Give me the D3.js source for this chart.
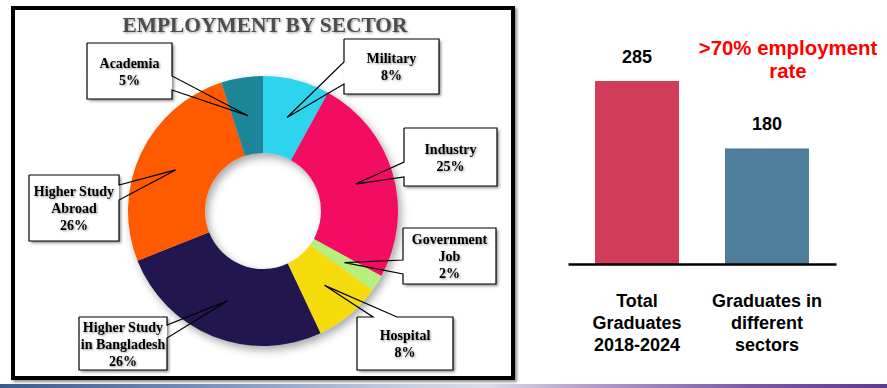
<!DOCTYPE html>
<html>
<head>
<meta charset="utf-8">
<script src="https://cdn.jsdelivr.net/npm/d3@7"></script>
<style>
  html, body { margin: 0; padding: 0; background: #fff; }
  svg { display: block; }
</style>
</head>
<body>
<div id="chart"></div>
<script>
// Donut data (clockwise from 12 o'clock)
const sectors = ["Military", "Industry", "Government Job", "Hospital",
                 "Higher Study in Bangladesh", "Higher Study Abroad", "Academia"];
const sectorShares = [8, 25, 2, 8, 26, 26, 5];
const sectorLines = [["Military"], ["Industry"], ["Government", "Job"], ["Hospital"],
                     ["Higher Study", "in Bangladesh"], ["Higher Study", "Abroad"], ["Academia"]];
const sectorColors = ["#2fd3ee", "#f20c63", "#b7ef7b", "#f7dc0b", "#21164f", "#ff5a05", "#1b8597"];

// Bar data
const barCategories = ["Total Graduates 2018-2024", "Graduates in different sectors"];
const barLines = [["Total", "Graduates", "2018-2024"], ["Graduates in", "different", "sectors"]];
const barValues = [285, 180];
const barColors = ["#d13c58", "#4f7e9b"];

// Callout box layout: box rect + side where the pointer leaves and its two base offsets
const calloutLayout = [
    { x: 344, y: 39, w: 95, h: 55, side: "left", a: 62, b: 84 },
    { x: 404, y: 128, w: 93, h: 58, side: "left", a: 162, b: 177 },
    { x: 403, y: 228, w: 93, h: 56, side: "left", a: 260, b: 274 },
    { x: 357, y: 317, w: 96, h: 53, side: "top", a: 373, b: 397 },
    { x: 79, y: 317, w: 88, h: 53, side: "right", a: 325, b: 338 },
    { x: 29, y: 175, w: 90, h: 66, side: "right", a: 185, b: 200 },
    { x: 87, y: 43, w: 85, h: 56, side: "right", a: 76, b: 90 }
];

const width = 887, height = 388;
const svg = d3.select("#chart").append("svg")
    .attr("width", width)
    .attr("height", height);

const defs = svg.append("defs");
const shadow = defs.append("filter").attr("id", "shadow")
    .attr("x", "-20%").attr("y", "-20%").attr("width", "140%").attr("height", "140%");
shadow.append("feDropShadow").attr("dx", 3).attr("dy", 4).attr("stdDeviation", 4)
    .attr("flood-color", "#000").attr("flood-opacity", 0.35);
const boxShadow = defs.append("filter").attr("id", "boxShadow")
    .attr("x", "-20%").attr("y", "-20%").attr("width", "140%").attr("height", "140%");
boxShadow.append("feDropShadow").attr("dx", 2).attr("dy", 2).attr("stdDeviation", 1.5)
    .attr("flood-color", "#000").attr("flood-opacity", 0.45);
const textShadow = defs.append("filter").attr("id", "textShadow");
textShadow.append("feDropShadow").attr("dx", 1).attr("dy", 1).attr("stdDeviation", 0.8)
    .attr("flood-color", "#000").attr("flood-opacity", 0.4);

const strip = defs.append("linearGradient").attr("id", "strip");
[["0", "#3d5a8a"], ["0.2", "#7088b4"], ["0.45", "#c4cde0"], ["0.55", "#dcdce6"],
 ["0.65", "#b8a4cc"], ["0.85", "#7a58a4"], ["1", "#5e3c8c"]].forEach(s =>
    strip.append("stop").attr("offset", s[0]).attr("stop-color", s[1]));

// Bottom slide strip
svg.append("rect").attr("x", 0).attr("y", 384).attr("width", width).attr("height", 4)
    .attr("fill", "url(#strip)");

// ---------- Left panel: donut ----------
svg.append("rect")
    .attr("x", 13).attr("y", 8).attr("width", 500).attr("height", 370)
    .attr("fill", "#fff").attr("stroke", "#000").attr("stroke-width", 4)
    .attr("filter", "url(#boxShadow)");

svg.append("text")
    .attr("x", 265).attr("y", 32)
    .attr("text-anchor", "middle")
    .attr("font-family", "'Liberation Serif', 'Times New Roman', serif")
    .attr("font-weight", "bold")
    .attr("font-size", 21.4)
    .attr("fill", "#4d4d4d")
    .attr("filter", "url(#textShadow)")
    .text("EMPLOYMENT BY SECTOR");

const cx = 263, cy = 211;
const pie = d3.pie().sort(null).value(d => d.share);
const arc = d3.arc().innerRadius(58).outerRadius(135);
const slices = pie(sectors.map((s, i) => ({ name: s, share: sectorShares[i], i })));

const donut = svg.append("g").attr("transform", `translate(${cx},${cy})`)
    .attr("filter", "url(#shadow)");
donut.selectAll("path")
    .data(slices)
    .enter()
    .append("path")
    .attr("d", arc)
    .attr("fill", d => sectorColors[d.data.i]);

// Callouts
const serif = "'Liberation Serif', 'Times New Roman', serif";
const callouts = svg.append("g");
slices.forEach((d, i) => {
    const box = calloutLayout[i];
    const c = arc.centroid(d);
    const tip = [cx + c[0], cy + c[1]];
    const { x, y, w, h } = box;
    let p1, p2;
    if (box.side === "left") { p1 = [x, box.a]; p2 = [x, box.b]; }
    else if (box.side === "right") { p1 = [x + w, box.a]; p2 = [x + w, box.b]; }
    else { p1 = [box.a, y]; p2 = [box.b, y]; }

    callouts.append("rect")
        .attr("x", x).attr("y", y).attr("width", w).attr("height", h)
        .attr("fill", "#fff").attr("filter", "url(#boxShadow)");

    // outline with the pointer wedge folded in
    let pts;
    if (box.side === "left") {
        pts = [[x, y], [x + w, y], [x + w, y + h], [x, y + h], p2, tip, p1, [x, y]];
    } else if (box.side === "right") {
        pts = [[x, y], [x + w, y], p1, tip, p2, [x + w, y + h], [x, y + h], [x, y]];
    } else {
        pts = [[x, y], p1, tip, p2, [x + w, y], [x + w, y + h], [x, y + h], [x, y]];
    }
    callouts.append("path")
        .attr("d", d3.line()(pts))
        .attr("fill", "none")
        .attr("stroke", "#000")
        .attr("stroke-width", 1.2);

    const lines = sectorLines[i].concat([sectorShares[i] + "%"]);
    const lh = 17;
    const midY = y + h / 2;
    const firstBase = midY - (lines.length - 1) * lh / 2 + 5;
    const t = callouts.append("text")
        .attr("text-anchor", "middle")
        .attr("font-family", serif)
        .attr("font-weight", "bold")
        .attr("font-size", 14)
        .attr("fill", "#000")
        .attr("filter", "url(#textShadow)");
    lines.forEach((ln, k) => {
        t.append("tspan").attr("x", x + w / 2).attr("y", firstBase + k * lh).text(ln);
    });
});

// ---------- Right panel: bars ----------
const sans = "'Liberation Sans', Arial, sans-serif";
const xBar = d3.scaleBand()
    .domain(barCategories)
    .range([568, 836])
    .paddingInner(0.354)
    .paddingOuter(0.208);
const yBar = d3.scaleLinear().domain([0, 285]).range([264, 81]);

svg.append("g")
    .selectAll("rect")
    .data(barCategories)
    .enter()
    .append("rect")
    .attr("x", d => xBar(d))
    .attr("y", (d, i) => yBar(barValues[i]))
    .attr("width", xBar.bandwidth())
    .attr("height", (d, i) => yBar(0) - yBar(barValues[i]))
    .attr("fill", (d, i) => barColors[i]);

const xAxis = d3.axisBottom(xBar).tickSize(0).tickSizeOuter(0).tickFormat("");
const axisG = svg.append("g")
    .attr("transform", `translate(0,${yBar(0)})`)
    .call(xAxis);
axisG.select(".domain").attr("stroke", "#000").attr("stroke-width", 2.5);

svg.append("g")
    .selectAll("text")
    .data(barCategories)
    .enter()
    .append("text")
    .attr("x", d => xBar(d) + xBar.bandwidth() / 2)
    .attr("y", (d, i) => yBar(barValues[i]) - 18)
    .attr("text-anchor", "middle")
    .attr("font-family", sans)
    .attr("font-weight", "bold")
    .attr("font-size", 18)
    .attr("fill", "#000")
    .text((d, i) => barValues[i]);

barCategories.forEach((cat, i) => {
    const t = svg.append("text")
        .attr("text-anchor", "middle")
        .attr("font-family", sans)
        .attr("font-weight", "bold")
        .attr("font-size", 18)
        .attr("fill", "#000");
    barLines[i].forEach((ln, k) => {
        t.append("tspan")
            .attr("x", xBar(cat) + xBar.bandwidth() / 2)
            .attr("y", 307 + k * 22)
            .text(ln);
    });
});

const note = svg.append("text")
    .attr("text-anchor", "middle")
    .attr("font-family", sans)
    .attr("font-weight", "bold")
    .attr("font-size", 20.4)
    .attr("fill", "#ff0000");
note.append("tspan").attr("x", 788).attr("y", 55).text(">70% employment");
note.append("tspan").attr("x", 788).attr("y", 78).text("rate");
</script>
</body>
</html>
